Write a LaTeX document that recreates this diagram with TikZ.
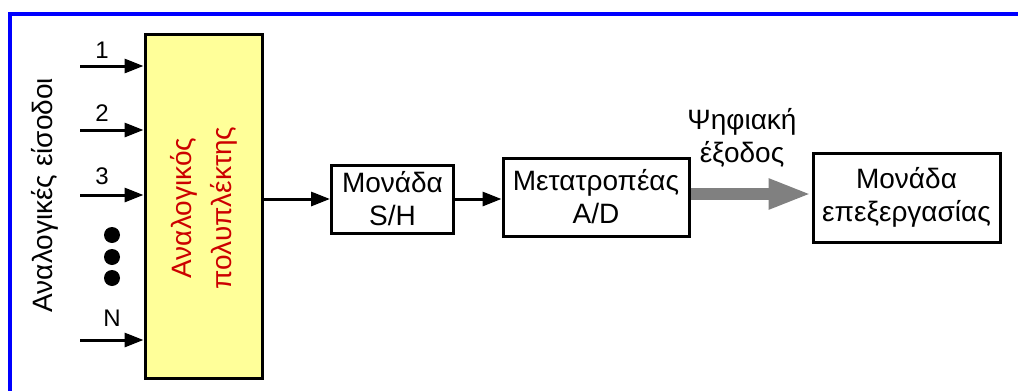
\documentclass[tikz,border=0pt]{standalone}
\usepackage{fontspec}
\setmainfont{Liberation Sans}
\usetikzlibrary{arrows.meta}
\begin{document}
\begin{tikzpicture}[x=1pt,y=-1pt,
  blk/.style={draw=black,line width=3pt,fill=white,align=center,inner sep=0pt,font=\fontsize{28}{33}\selectfont},
  conn/.style={line width=3pt,-{Triangle[length=19pt,width=14pt]}},
  num/.style={font=\fontsize{24}{26}\selectfont,inner sep=0pt},
  dotc/.style={circle,fill=black,minimum size=16pt,inner sep=0pt}]
\useasboundingbox (0,0) rectangle (1018,391);
\fill[white] (0,0) rectangle (1018,391);
% frame
\draw[blue,line width=4pt] (1018,13.5) -- (9.5,13.5) -- (9.5,391);
% mux
\node[blk,fill={rgb,255:red,255;green,255;blue,153},minimum width=117pt,minimum height=344pt] (mux) at (203.5,206.5) {};
\node[rotate=90,align=center,text={rgb,255:red,204;green,0;blue,0},font=\fontsize{28}{40}\selectfont] (muxt) at (203.5,208) {Αναλογικός\\πολυπλέκτης};
% inputs
\coordinate (i1) at (80,66);
\coordinate (i2) at (80,130);
\coordinate (i3) at (80,195);
\coordinate (iN) at (80,340);
\draw[conn] (i1) -- (i1 -| mux.west);
\draw[conn] (i2) -- (i2 -| mux.west);
\draw[conn] (i3) -- (i3 -| mux.west);
\draw[conn] (iN) -- (iN -| mux.west);
\node[num] (n1) at (102,50) {1};
\node[num] (n2) at (102,113) {2};
\node[num] (n3) at (102,176) {3};
\node[num] (nN) at (112,318) {N};
\node[dotc] (d1) at (112,235) {};
\node[dotc] (d2) at (112,257) {};
\node[dotc] (d3) at (112,278) {};
\node[rotate=90,font=\fontsize{28}{30}\selectfont] (inl) at (45,195) {Αναλογικές είσοδοι};
% chain
\node[blk,minimum width=122pt,minimum height=68pt] (sh) at (392.5,199) {Μονάδα\\S/H};
\node[blk,minimum width=186pt,minimum height=78pt] (ad) at (596,197) {Μετατροπέας\\A/D};
\node[blk,minimum width=187pt,minimum height=89pt] (proc) at (906.5,197.5) {Μονάδα\\επεξεργασίας};
\draw[conn] (mux.east |- sh.west) -- (sh.west);
\draw[conn] (sh.east) -- (sh.east -| ad.west);
\draw[line width=12pt,color={rgb,255:red,128;green,128;blue,128},-{Triangle[length=43pt,width=28pt]}] (ad.east |- 0,194) -- (proc.west |- 0,194);
\node[align=center,font=\fontsize{28}{33}\selectfont] (dout) at (742,138) {Ψηφιακή\\έξοδος};
\end{tikzpicture}
\end{document}
